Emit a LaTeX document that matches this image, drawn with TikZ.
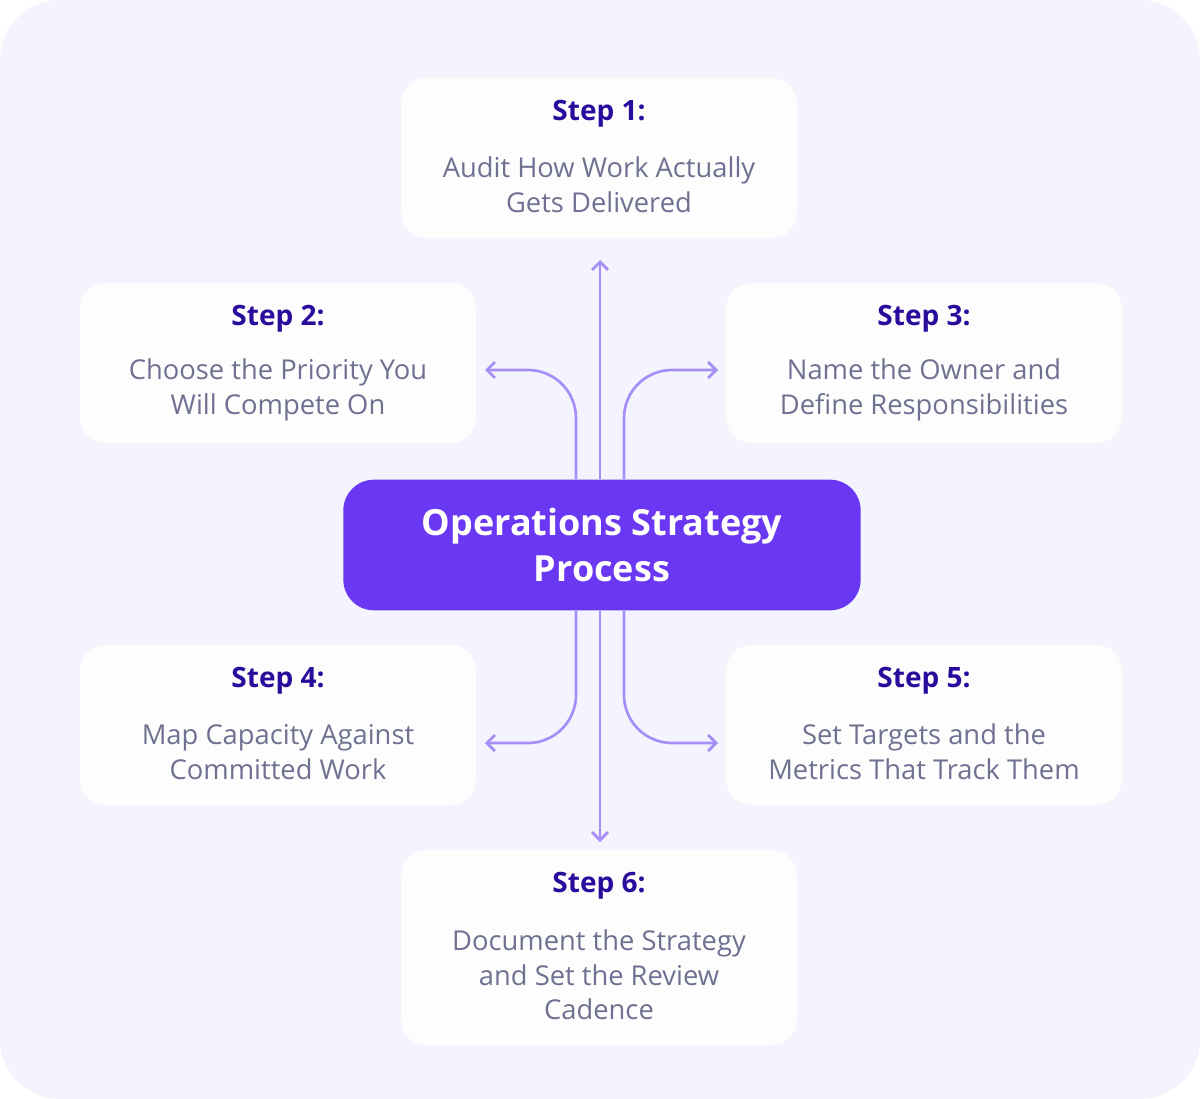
\documentclass[tikz,border=0pt]{standalone}
\usepackage{fontspec}
\setmainfont{Open Sans}[Ligatures=NoCommon]
\usetikzlibrary{arrows.meta}
\definecolor{bg}{HTML}{F3F4FE}
\definecolor{cen}{HTML}{6A38F2}
\definecolor{arr}{HTML}{A68EF6}
\definecolor{ttl}{HTML}{2A0C9C}
\definecolor{txt}{HTML}{6E7190}
\begin{document}
\begin{tikzpicture}[x=0.75pt,y=-0.75pt,
 con/.style={draw=arr,line width=2pt,-{Straight Barb[length=6pt,width=12pt]}},
 st/.style={font=\bfseries\fontsize{21}{25}\selectfont,text=ttl},
 bd/.style={font=\fontsize{20.5}{26}\selectfont,text=txt,align=center}]
\useasboundingbox (0,0) rectangle (1200,1099);
\fill[white] (0,0) rectangle (1200,1099);
\fill[bg,rounded corners=45pt] (0,0) rectangle (1200,1099);
\fill[white,fill opacity=0.85,rounded corners=19pt] (401,78) rectangle (797,238);
\fill[white,fill opacity=0.85,rounded corners=19pt] (80,283) rectangle (476,443);
\fill[white,fill opacity=0.85,rounded corners=19pt] (726,283) rectangle (1122,443);
\fill[white,fill opacity=0.85,rounded corners=19pt] (80,645) rectangle (476,805);
\fill[white,fill opacity=0.85,rounded corners=19pt] (726,645) rectangle (1122,805);
\fill[white,fill opacity=0.85,rounded corners=19pt] (401,850) rectangle (797,1045);
\node[st] (t1) at (599,114) {Step 1:};
\node[bd] (b1) at (599,185) {Audit How Work Actually\\Gets Delivered};
\node[st] (t2) at (278,319) {Step 2:};
\node[bd] (b2) at (278,390) {Choose the Priority You\\Will Compete On};
\node[st] (t3) at (924,319) {Step 3:};
\node[bd] (b3) at (924,390) {Name the Owner and\\Define Responsibilities};
\node[st] (t4) at (278,681) {Step 4:};
\node[bd] (b4) at (278,752) {Map Capacity Against\\Committed Work};
\node[st] (t5) at (924,681) {Step 5:};
\node[bd] (b5) at (924,752) {Set Targets and the\\Metrics That Track Them};
\node[st] (t6) at (599,886) {Step 6:};
\node[bd] (b6) at (599,975) {Document the Strategy\\and Set the Review\\Cadence};
\node[fill=cen,rounded corners=23pt,minimum width=388pt,minimum height=98pt,text=white,align=center,font=\bfseries\fontsize{27}{34}\selectfont] (c) at (602,545) {Operations Strategy\\Process};
\coordinate (a1) at (600,260);
\coordinate (a2) at (485,370);
\coordinate (a3) at (718,370);
\coordinate (a4) at (485,743);
\coordinate (a5) at (718,743);
\coordinate (a6) at (600,842);
\draw[con] (c.north -| a1) -- (a1);
\draw[con] (c.south -| a6) -- (a6);
\draw[con,rounded corners=36pt] (c.north -| 576,0) |- (a2);
\draw[con,rounded corners=36pt] (c.north -| 624,0) |- (a3);
\draw[con,rounded corners=36pt] (c.south -| 576,0) |- (a4);
\draw[con,rounded corners=36pt] (c.south -| 624,0) |- (a5);
\end{tikzpicture}
\end{document}
